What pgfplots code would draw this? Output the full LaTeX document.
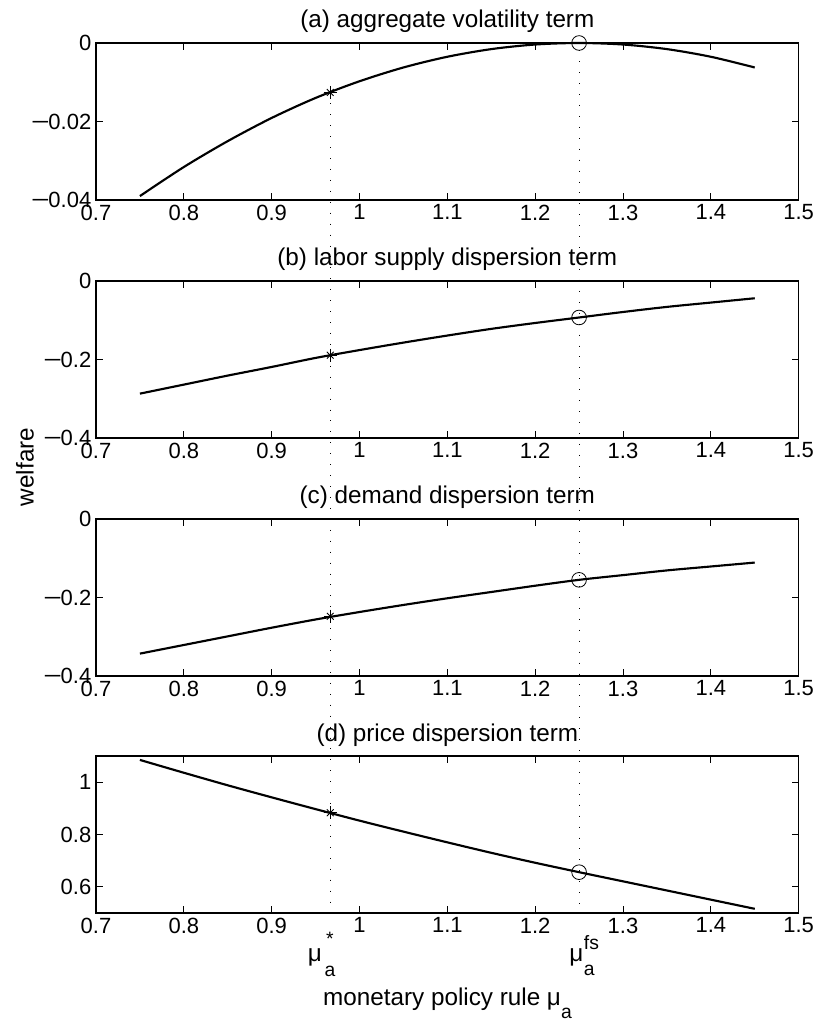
\documentclass[border=0pt]{standalone}
\usepackage{pgfplots}
\pgfplotsset{compat=1.18}
\usepackage{graphicx}
\usepackage{fontspec}
\setmainfont{Liberation Sans}

\newcommand\tfs{\fontsize{16.5}{18}\selectfont}
\newcommand\lfs{\fontsize{18.2}{20}\selectfont}
\newcommand\sfs{\fontsize{14.5}{16}\selectfont}
\newcommand\mn{\makebox[13pt][l]{\scalebox{1.45}[1]{−}}}

\pgfplotsset{
  panel/.style={
    width=527pt, height=117.75pt, scale only axis,
    anchor=south west, clip=false,
    xmin=0.7, xmax=1.5,
    xtick={0.7,0.8,0.9,1,1.1,1.2,1.3,1.4,1.5},
    xticklabels={0.7,0.8,0.9,1,1.1,1.2,1.3,1.4,1.5},
    scaled y ticks=false, scaled x ticks=false,
    tick align=inside, major tick length=5pt,
    tick style={black, line width=0.6pt},
    axis line style={black, line width=0.8pt},
    tick label style={font=\tfs, black},
  },
  curve/.style={black, line width=1.6pt, smooth, no marks},
  starmark/.style={only marks, black, mark=+, mark size=5pt,
    mark options={line width=0.65pt}},
  starmark2/.style={only marks, black, mark=x, mark size=3.6pt,
    mark options={line width=0.65pt}},
  circmark/.style={only marks, black, mark=o, mark size=5.5pt,
    mark options={line width=0.6pt}},
}

\begin{document}
\begin{tikzpicture}
\path[use as bounding box] (0,0) rectangle (616.5pt,768pt);

% (a)
\begin{axis}[panel, at={(72pt,618pt)},
  ymin=-0.04, ymax=0,
  ytick={-0.04,-0.02,0}, yticklabels={\mn0.04,\mn0.02,0}]
  \addplot[curve] coordinates {
    (0.75,-0.0390) (0.80,-0.0316) (0.85,-0.0250) (0.90,-0.0191) (0.95,-0.0140)
    (1.00,-0.00975) (1.05,-0.00624) (1.10,-0.00351) (1.15,-0.00156) (1.20,-0.00039)
    (1.25,0) (1.30,-0.00039) (1.35,-0.00156) (1.40,-0.00351) (1.45,-0.00624)};
  \addplot[starmark] coordinates {(0.9667,-0.0126)};
  \addplot[starmark2] coordinates {(0.9667,-0.0126)};
  \addplot[circmark] coordinates {(1.25,0)};
  \coordinate (sa) at (axis cs:0.9667,-0.0126);
  \coordinate (ca) at (axis cs:1.25,0);
  \node[anchor=base, font=\lfs] at ([yshift=11.25pt]rel axis cs:0.5,1) {(a) aggregate volatility term};
\end{axis}

% (b)
\begin{axis}[panel, at={(72pt,439.5pt)},
  ymin=-0.4, ymax=0,
  ytick={-0.4,-0.2,0}, yticklabels={\mn0.4,\mn0.2,0}]
  \addplot[curve] coordinates {
    (0.75,-0.287) (0.80,-0.264) (0.85,-0.241) (0.90,-0.219) (0.95,-0.196)
    (1.00,-0.176) (1.05,-0.157) (1.10,-0.139) (1.15,-0.122) (1.20,-0.107)
    (1.25,-0.093) (1.30,-0.079) (1.35,-0.066) (1.40,-0.055) (1.45,-0.044)};
  \addplot[starmark] coordinates {(0.9667,-0.189)};
  \addplot[starmark2] coordinates {(0.9667,-0.189)};
  \addplot[circmark] coordinates {(1.25,-0.093)};
  \node[anchor=base, font=\lfs] at ([yshift=11.25pt]rel axis cs:0.5,1) {(b) labor supply dispersion term};
\end{axis}

% (c)
\begin{axis}[panel, at={(72pt,261pt)},
  ymin=-0.4, ymax=0,
  ytick={-0.4,-0.2,0}, yticklabels={\mn0.4,\mn0.2,0}]
  \addplot[curve] coordinates {
    (0.75,-0.343) (0.80,-0.321) (0.85,-0.299) (0.90,-0.277) (0.95,-0.256)
    (1.00,-0.237) (1.05,-0.219) (1.10,-0.202) (1.15,-0.186) (1.20,-0.170)
    (1.25,-0.155) (1.30,-0.143) (1.35,-0.131) (1.40,-0.121) (1.45,-0.111)};
  \addplot[starmark] coordinates {(0.9667,-0.248)};
  \addplot[starmark2] coordinates {(0.9667,-0.248)};
  \addplot[circmark] coordinates {(1.25,-0.155)};
  \node[anchor=base, font=\lfs] at ([yshift=11.25pt]rel axis cs:0.5,1) {(c) demand dispersion term};
\end{axis}

% (d)
\begin{axis}[panel, at={(72pt,83.25pt)},
  ymin=0.5, ymax=1.1,
  ytick={0.6,0.8,1}, yticklabels={0.6,0.8,1}]
  \addplot[curve] coordinates {
    (0.75,1.085) (0.80,1.036) (0.85,0.988) (0.90,0.942) (0.95,0.897)
    (1.00,0.853) (1.05,0.811) (1.10,0.770) (1.15,0.730) (1.20,0.692)
    (1.25,0.656) (1.30,0.621) (1.35,0.586) (1.40,0.551) (1.45,0.516)};
  \addplot[starmark] coordinates {(0.9667,0.883)};
  \addplot[starmark2] coordinates {(0.9667,0.883)};
  \addplot[circmark] coordinates {(1.25,0.656)};
  \coordinate (sd) at (axis cs:0.9667,0.515);
  \coordinate (cd) at (axis cs:1.25,0.5);
  \node[anchor=base, font=\lfs] at ([yshift=11.25pt]rel axis cs:0.5,1) {(d) price dispersion term};
\end{axis}

% dotted reference lines through all panels
\draw[black, line width=0.7pt, dash pattern=on 0.7pt off 7.5pt] (sa) -- (sd);
\draw[black, line width=0.7pt, dash pattern=on 0.7pt off 7.5pt] ([yshift=-5.5pt]ca) -- (cd);

% special tick labels
\node[anchor=base west, inner sep=0, font=\lfs] at ([xshift=-17pt]sd |- 0,46.5pt)
  {μ\hspace{2pt}\rlap{\raisebox{-11pt}{\sfs a}}\makebox[8pt][c]{\raisebox{12pt}{\sfs *}}};
\node[anchor=base west, inner sep=0, font=\lfs] at ([xshift=-7.5pt]cd |- 0,46.5pt)
  {μ\hspace{0.5pt}\rlap{\raisebox{-10pt}{\sfs a}}\raisebox{9.5pt}{\sfs fs}};

% axis titles
\node[anchor=base, font=\lfs] at (335.6pt,13.5pt) {monetary policy rule μ\raisebox{-9.5pt}{\sfs a}};
\node[rotate=90, font=\lfs] at (18.75pt,417.75pt) {welfare};
\end{tikzpicture}
\end{document}
